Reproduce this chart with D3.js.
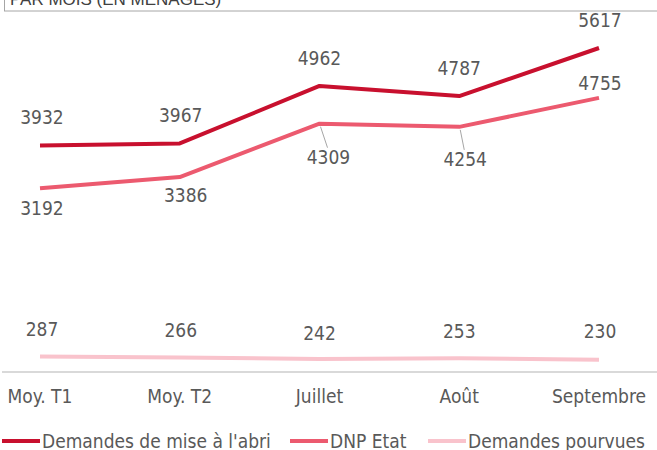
<!DOCTYPE html>
<html>
<head>
<meta charset="utf-8">
<script src="https://cdn.jsdelivr.net/npm/d3@7"></script>
<style>
  body { margin: 0; background: #fff; }
  svg { display: block; }
  .num, .cat, .leg { font-family: "Liberation Sans Narrow", "DejaVu Sans Condensed", "Arial Narrow", sans-serif; fill: #595959; }
</style>
</head>
<body>
<script>
  // Categories and series
  var categories = ['Moy. T1', 'Moy. T2', 'Juillet', 'Août', 'Septembre'];
  var miseAbri = [3932, 3967, 4962, 4787, 5617];
  var dnpEtat = [3192, 3386, 4309, 4254, 4755];
  var pourvues = [287, 266, 242, 253, 230];

  var seriesNames = ["Demandes de mise à l'abri", 'DNP Etat', 'Demandes pourvues'];
  var seriesColors = ['#c8102e', '#ec5a6f', '#f9c3cc'];

  var w = 657;
  var h = 450;

  var svg = d3.select('body')
    .append('svg')
    .attr('width', w)
    .attr('height', h);

  // Cropped title box at the top
  svg.append('rect')
    .attr('x', 4.5)
    .attr('y', -20)
    .attr('width', 700)
    .attr('height', 31)
    .attr('fill', 'none')
    .attr('stroke', '#a6a6a6');
  svg.append('text')
    .attr('x', 10)
    .attr('y', 5)
    .attr('font-family', 'Liberation Sans, Arial, sans-serif')
    .attr('font-size', '17px')
    .attr('fill', '#404040')
    .text('PAR MOIS (EN MÉNAGES)');

  var xScale = d3.scalePoint()
    .domain(categories)
    .range([40, 599]);

  var yScale = d3.scaleLinear()
    .domain([0, 5617])
    .range([373, 48]);

  // Baseline
  svg.append('line')
    .attr('x1', 2)
    .attr('x2', w)
    .attr('y1', 372)
    .attr('y2', 372)
    .attr('stroke', '#d9d9d9')
    .attr('stroke-width', 2);

  // Category labels
  svg.selectAll('text.cat')
    .data(categories)
    .enter()
    .append('text')
    .attr('class', 'cat')
    .attr('x', function(d) { return xScale(d); })
    .attr('y', 403)
    .attr('text-anchor', 'middle')
    .attr('font-size', '19px')
    .text(function(d) { return d; });

  var line = d3.line()
    .x(function(d, i) { return xScale(categories[i]); })
    .y(function(d) { return yScale(d); });

  var allSeries = [miseAbri, dnpEtat, pourvues];

  svg.selectAll('path.series')
    .data(allSeries.slice().reverse())
    .enter()
    .append('path')
    .attr('class', 'series')
    .attr('d', line)
    .attr('fill', 'none')
    .attr('stroke', function(d, i) { return seriesColors[2 - i]; })
    .attr('stroke-width', 4)
    .attr('stroke-linejoin', 'round');

  // Label offsets (dx, dy from point to label centre)
  var abriOff = [[2, -28], [1, -28], [0, -28], [0, -28], [1, -28]];
  var dnpOff = [[2, 20], [6, 18], [9, 33], [6, 32], [1, -15]];
  var pourvOff = [[2, -27], [1, -27], [0, -26], [0, -27], [1, -29]];

  function drawLabels(values, offsets, leaders) {
    values.forEach(function(v, i) {
      var px = xScale(categories[i]);
      var py = yScale(v);
      var o = offsets[i];
      if (leaders && leaders[i]) {
        svg.append('line')
          .attr('x1', px + 1)
          .attr('y1', py + 3)
          .attr('x2', px + o[0] - 1)
          .attr('y2', py + o[1] - 9)
          .attr('stroke', '#a6a6a6')
          .attr('stroke-width', 1);
      }
      svg.append('text')
        .attr('class', 'num')
        .attr('x', px + o[0])
        .attr('y', py + o[1])
        .attr('dy', '0.36em')
        .attr('text-anchor', 'middle')
        .attr('font-size', '19px')
        .text(v);
    });
  }

  drawLabels(miseAbri, abriOff);
  drawLabels(dnpEtat, dnpOff, [false, false, true, true, false]);
  drawLabels(pourvues, pourvOff);

  // Legend
  var legX = [2, 290, 428];
  var legend = svg.selectAll('g.leg')
    .data(seriesNames)
    .enter()
    .append('g')
    .attr('transform', function(d, i) { return 'translate(' + legX[i] + ',441)'; });

  legend.append('line')
    .attr('x1', 0)
    .attr('x2', 38)
    .attr('stroke', function(d, i) { return seriesColors[i]; })
    .attr('stroke-width', 4);

  legend.append('text')
    .attr('class', 'leg')
    .attr('x', 40)
    .attr('dy', '0.36em')
    .attr('font-size', '19px')
    .text(function(d) { return d; });
</script>
</body>
</html>
